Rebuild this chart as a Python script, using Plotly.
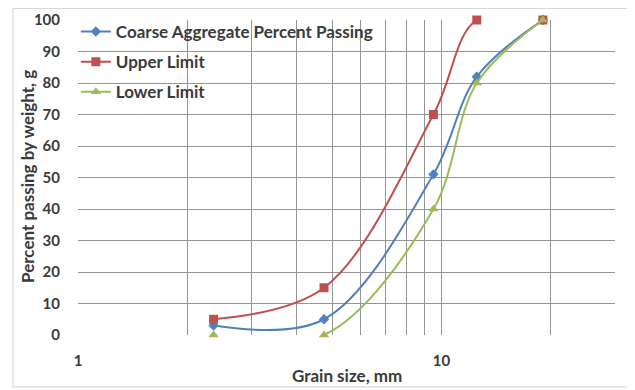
import plotly.graph_objects as go
import math

grain_size = [2.36, 4.75, 9.5, 12.5, 19]
coarse = [3, 5, 51, 82, 100]
upper = [5, 15, 70, 100, 100]
lower = [0, 0, 40, 80, 100]

x_tickvals = [1, 2, 3, 4, 5, 6, 7, 8, 9, 10, 20, 30]
x_ticktext = ["1", "", "", "", "", "", "", "", "", "10", "", ""]
y_tickvals = [0, 10, 20, 30, 40, 50, 60, 70, 80, 90, 100]

FONT = "Lato, 'Liberation Sans', sans-serif"
TXT = "#3a3a3a"

fig = go.Figure()
series = [
    ("Coarse Aggregate Percent Passing", coarse, "#4F81BD", "diamond", 8, "a"),
    ("Upper Limit", upper, "#C0504D", "square", 9, "b"),
    ("Lower Limit", lower, "#9BBB59", "triangle-up", 9, "c"),
]
for name, vals, col, sym, size, grp in series:
    fig.add_trace(go.Scatter(
        x=grain_size, y=vals, name=name, mode="lines+markers",
        line=dict(color=col, width=2, shape="spline", smoothing=1.0),
        marker=dict(symbol=sym, size=size, color=col),
        legendgroup=grp, cliponaxis=False,
    ))

fig.update_layout(
    width=635, height=390,
    margin=dict(l=70, r=28, t=12, b=63, autoexpand=False),
    paper_bgcolor="white", plot_bgcolor="white",
    font=dict(family=FONT, color=TXT),
    showlegend=True,
    legend=dict(x=-0.004, y=1.019, xanchor="left", yanchor="top",
                bgcolor="rgba(0,0,0,0)", tracegroupgap=5,
                font=dict(size=17, color=TXT, family=FONT, weight="bold"),
                itemwidth=30),
    xaxis=dict(type="log", range=[0, math.log10(30)], automargin=False,
               tickvals=x_tickvals, ticktext=x_ticktext,
               showgrid=True, gridcolor="#959595", gridwidth=1,
               zeroline=False, showline=False, ticks="",
               ticklabelstandoff=15,
               tickfont=dict(size=15, color=TXT, family=FONT, weight="bold")),
    yaxis=dict(range=[0, 100], tickvals=y_tickvals, automargin=False,
               showgrid=True, gridcolor="#959595", gridwidth=1,
               zeroline=False, showline=False, ticks="",
               ticklabelstandoff=17,
               tickfont=dict(size=15, color=TXT, family=FONT, weight="bold")),
    annotations=[
        dict(text="<b>Percent passing by weight, g</b>", xref="paper", yref="paper",
             x=-0.093, y=0.502, textangle=-90, showarrow=False,
             xanchor="center", yanchor="middle",
             font=dict(size=17, color=TXT, family=FONT)),
        dict(text="<b>Grain size, mm</b>", xref="paper", yref="paper",
             x=0.5, y=-0.127, showarrow=False, xanchor="center", yanchor="middle",
             font=dict(size=17, color=TXT, family=FONT)),
    ],
    shapes=[
        dict(type="rect", xref="paper", yref="paper",
             x0=-0.121, x1=1.032, y0=-0.165, y1=1.037,
             line=dict(color="#d0d0d0", width=1)),
    ],
)

fig.write_html("out.html")
